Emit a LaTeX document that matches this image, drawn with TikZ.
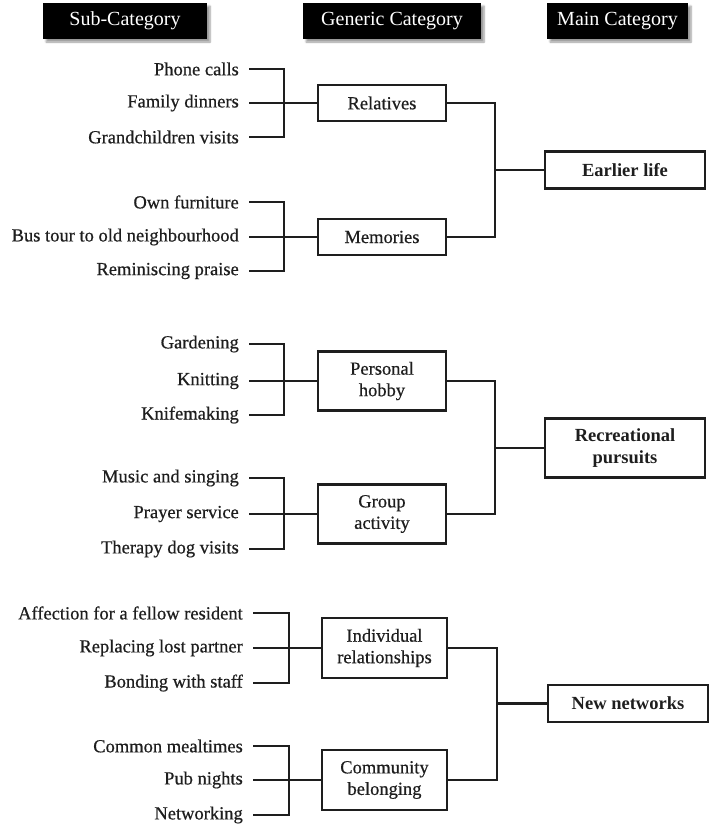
\documentclass[tikz,border=0pt]{standalone}
\usepackage{fontspec}
\setmainfont{Liberation Serif}
\newfontfamily\heavyfont[FakeBold=0.6]{Liberation Serif}
\usepackage{tikz}
\usetikzlibrary{calc,shapes,shadows,shadows.blur,positioning}
\definecolor{mgray}{RGB}{30,30,30}

\begin{document}
\begin{tikzpicture}[x=1pt,y=-1pt]
    \tikzstyle{every node}=[font=\heavyfont\fontsize{18.5}{21.5}\selectfont,text=mgray]
    \tikzstyle{head}=[fill=black,text=white,minimum height=36pt,inner sep=0pt,
      font=\fontsize{20}{22}\selectfont,blur shadow={shadow xshift=3pt,shadow yshift=-3pt,shadow blur steps=6}]
    \tikzstyle{item}=[anchor=east,inner xsep=10pt,inner ysep=0pt]
    \tikzstyle{generic}=[draw=mgray,line width=2.5pt,minimum width=128pt,minimum height=36pt,align=center]
    \tikzstyle{main}=[draw=mgray,line width=2.5pt,minimum width=160pt,minimum height=37pt,align=center,font=\fontsize{18.5}{21.5}\selectfont\bfseries]
    \tikzstyle{link}=[draw=mgray,line width=2.7pt]
    \useasboundingbox (0,0) rectangle (714,828);

    % column heads
    \node[head,minimum width=164pt] (hsub) at (125,21) {Sub-Category};
    \node[head,minimum width=178pt] (hgen) at (392,21) {Generic Category};
    \node[head,minimum width=141pt] (hmain) at (617.5,21) {Main Category};

    % earlier life
    \node[item] (phone) at (249,69) {Phone calls};
    \node[item] (dinner) at (249,103) {Family dinners};
    \node[item] (grand) at (249,137) {Grandchildren visits};
    \node[item] (furn) at (249,202) {Own furniture};
    \node[item] (bus) at (249,237) {Bus tour to old neighbourhood};
    \node[item] (remin) at (249,271) {Reminiscing praise};
    \node[generic] (rel) at (382,103) {Relatives};
    \node[generic] (mem) at (382,237) {Memories};
    \node[main] (early) at (625,170) {Earlier life};
    \coordinate (b1) at (284,103);
    \coordinate (b2) at (284,237);
    \coordinate (m1) at (495,170);

    % recreational pursuits
    \node[item] (garden) at (249,344) {Gardening};
    \node[item] (knit) at (249,381) {Knitting};
    \node[item] (knife) at (249,415) {Knifemaking};
    \node[item] (music) at (249,478) {Music and singing};
    \node[item] (prayer) at (249,514) {Prayer service};
    \node[item] (dog) at (249,549) {Therapy dog visits};
    \node[generic,minimum height=59pt] (hobby) at (382,381) {Personal\\hobby};
    \node[generic,minimum height=59pt] (group) at (382,514) {Group\\activity};
    \node[main,minimum height=59pt] (recr) at (625,448) {Recreational\\pursuits};
    \coordinate (b3) at (284,381);
    \coordinate (b4) at (284,514);
    \coordinate (m2) at (495,448);

    % new networks
    \node[item] (affect) at (253,613) {Affection for a fellow resident};
    \node[item] (partner) at (253,648) {Replacing lost partner};
    \node[item] (staff) at (253,683) {Bonding with staff};
    \node[item] (meal) at (253,746) {Common mealtimes};
    \node[item] (pub) at (253,780) {Pub nights};
    \node[item] (netw) at (253,815) {Networking};
    \node[generic,minimum width=125pt,minimum height=60pt] (indiv) at (384.5,648) {Individual\\relationships};
    \node[generic,minimum width=125pt,minimum height=60pt] (comm) at (384.5,780) {Community\\belonging};
    \node[main] (newnet) at (628,703.5) {New networks};
    \coordinate (b5) at (289,648);
    \coordinate (b6) at (289,780);
    \coordinate (m3) at (497,703.5);

    \draw[link] (phone.east) -| (b1) (grand.east) -| (b1) (dinner.east) -- (rel.west);
    \draw[link] (furn.east) -| (b2) (remin.east) -| (b2) (bus.east) -- (mem.west);
    \draw[link] (rel.east) -| (m1) (mem.east) -| (m1) (m1) -- (early.west);

    \draw[link] (garden.east) -| (b3) (knife.east) -| (b3) (knit.east) -- (hobby.west);
    \draw[link] (music.east) -| (b4) (dog.east) -| (b4) (prayer.east) -- (group.west);
    \draw[link] (hobby.east) -| (m2) (group.east) -| (m2) (m2) -- (recr.west);

    \draw[link] (affect.east) -| (b5) (staff.east) -| (b5) (partner.east) -- (indiv.west);
    \draw[link] (meal.east) -| (b6) (netw.east) -| (b6) (pub.east) -- (comm.west);
    \draw[link] (indiv.east) -| (m3) (comm.east) -| (m3) (m3) -- (newnet.west);
\end{tikzpicture}
\end{document}
